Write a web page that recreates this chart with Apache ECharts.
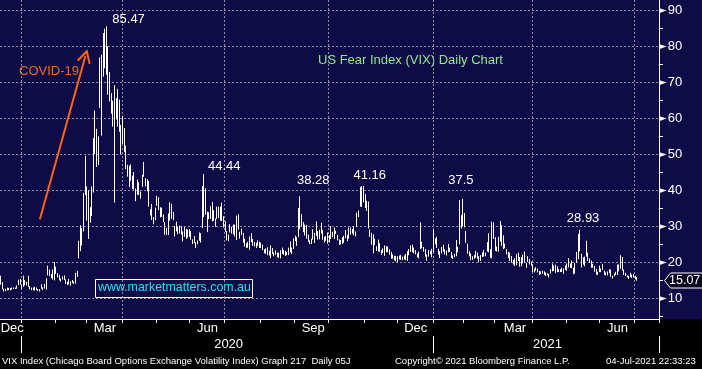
<!DOCTYPE html>
<html><head><meta charset="utf-8">
<script src="https://cdn.jsdelivr.net/npm/echarts@6/dist/echarts.min.js"></script>
<style>html,body{margin:0;padding:0;background:#000;}#c{width:702px;height:369px;}</style>
</head><body><div id="c"></div>
<script>
// ---------- axis / calendar data ----------
const firstDay = [2019, 11, 12];   // 12 Dec 2019
const lastDay  = [2021, 6, 22];    // 22 Jul 2021 (right edge of axis)
const holidays = ['2019-12-25','2020-01-01','2020-01-20','2020-02-17','2020-04-10','2020-05-25','2020-07-03',
  '2020-09-07','2020-11-26','2020-12-25','2021-01-01','2021-01-18','2021-02-15','2021-04-02','2021-05-31','2021-07-05'];
const monthNames = ['Jan','Feb','Mar','Apr','May','Jun','Jul','Aug','Sep','Oct','Nov','Dec'];
const labelledMonths = [11, 2, 5, 8];   // Dec, Mar, Jun, Sep
const yMin = 4.17, yMax = 92.78;

// ---------- VIX daily OHLC (12 Dec 2019 .. 2 Jul 2021) ----------
const vixOpen = [
15.0,13.9,12.4,12.3,12.3,12.7,12.3,12.8,12.7,12.7,12.8,13.9,15.0,
13.5,15.0,15.0,14.0,15.5,13.2,12.4,12.8,12.3,12.5,12.3,12.2,12.9,12.7,13.0,12.7,17.0,17.7,15.9,17.0,16.3,
18.6,16.6,15.6,15.3,15.5,16.3,14.4,14.4,15.0,14.2,14.8,14.4,14.3,16.6,21.3,24.7,26.0,29.0,42.0,
40.6,32.5,33.6,35.4,46.2,55.9,46.4,51.3,64.0,63.3,73.5,76.6,79.3,77.4,69.8,63.6,60.9,59.6,64.4,64.0,64.2,55.3,
57.4,55.0,50.9,46.5,41.3,47.0,43.3,43.4,39.2,40.8,39.1,38.3,42.3,47.6,42.3,41.3,40.8,33.6,32.2,31.8,32.7,
36.2,37.9,34.6,33.6,32.4,30.3,28.9,27.8,32.8,35.3,33.5,29.6,28.7,29.6,28.3,29.8,25.9,27.9,27.5,28.9,
28.6,27.7,26.0,25.9,25.0,25.7,26.5,27.1,29.9,39.4,39.0,30.7,32.3,33.8,32.4,33.5,31.1,32.3,34.2,32.0,35.0,32.5,
30.3,27.8,27.1,28.8,29.6,28.5,30.0,27.2,32.6,27.8,28.4,27.6,26.2,24.0,25.5,23.8,27.2,26.2,24.8,25.1,25.6,24.6,
25.3,24.5,23.2,23.3,23.0,22.3,22.4,23.7,22.0,22.5,22.3,21.7,21.5,23.7,22.9,22.0,22.2,22.4,23.4,23.8,24.0,
26.6,26.3,27.9,33.9,31.6,30.0,28.5,29.6,27.1,25.5,25.3,28.6,27.3,29.5,27.3,26.7,28.9,28.3,26.9,26.4,26.0,
26.8,28.7,28.0,27.8,28.5,27.2,26.2,25.8,25.6,25.6,28.2,26.3,27.3,28.8,28.8,28.7,27.7,30.0,32.9,36.0,38.6,38.6,
37.9,35.2,36.7,28.2,27.8,25.7,26.2,24.3,23.4,24.0,22.9,23.3,22.4,24.3,23.3,23.3,22.6,21.3,21.7,21.2,
20.6,21.6,21.3,21.2,21.6,21.6,20.5,23.0,23.6,23.1,23.9,22.7,22.0,22.1,24.5,25.1,24.0,23.5,21.7,21.8,22.6,22.7,
23.0,26.5,26.2,23.4,21.9,23.0,24.0,22.8,22.2,23.5,23.5,22.6,21.3,22.0,22.2,23.2,25.3,32.3,32.0,
30.3,28.1,24.7,22.8,21.5,21.0,21.4,21.8,21.8,21.4,20.5,22.4,22.7,21.8,23.8,25.1,23.5,21.5,27.6,
26.7,23.6,23.6,26.6,28.0,24.1,24.9,23.3,22.5,21.6,21.1,19.9,20.3,20.7,22.0,21.1,19.5,20.1,20.9,19.6,20.7,20.6,19.4,
18.9,18.0,17.9,18.0,17.3,17.0,17.4,17.0,16.6,16.6,16.5,17.1,17.7,18.9,17.6,18.6,17.8,17.5,17.6,17.2,18.6,
18.9,18.6,19.0,19.2,18.3,17.4,21.5,21.2,27.4,22.0,19.9,19.5,23.3,22.0,20.4,20.4,18.7,18.8,17.8,16.7,
17.4,17.8,18.3,17.5,17.0,16.6,16.9,17.6,16.0,16.6,16.6,17.2,18.3,18.5,20.9,17.5,16.5,16.1,16.0,16.5,16.2,16.3,
16.0,15.4];
const vixHigh = [
16.2,14.4,12.6,12.6,12.9,12.8,12.8,12.9,12.9,12.9,13.5,15.1,15.3,
13.6,16.2,15.0,14.5,16.2,13.3,12.9,12.9,13.1,12.9,12.5,12.5,13.8,13.0,13.9,15.5,19.0,17.9,16.7,17.9,20.0,
18.7,16.9,16.4,15.4,16.0,16.3,15.2,14.5,15.3,14.6,15.0,14.6,17.0,17.5,25.9,30.2,29.4,39.2,49.5,
41.0,39.9,35.2,41.0,54.4,62.1,57.0,54.9,76.8,77.6,83.6,84.8,85.47,79.9,72.8,66.9,64.8,69.1,65.5,68.1,65.1,58.1,
60.6,57.2,52.3,47.0,46.7,47.1,44.0,45.0,40.4,42.9,42.2,39.6,44.2,47.8,43.3,43.0,42.5,34.7,36.1,32.5,35.1,
38.4,38.0,35.2,35.1,33.2,31.1,29.5,33.5,36.6,36.2,33.9,30.0,31.2,29.7,30.1,30.0,28.5,29.8,29.2,29.0,
29.1,28.6,26.3,27.2,25.5,26.0,28.2,28.0,41.1,44.44,40.5,34.0,33.8,35.5,36.7,34.4,32.1,35.4,35.4,35.4,36.5,32.7,
31.3,28.6,27.6,30.5,29.8,30.4,30.4,32.9,33.3,28.4,29.3,28.1,26.5,25.2,25.6,27.1,28.0,26.4,25.6,25.3,26.0,25.6,
25.4,24.8,23.5,23.8,24.1,23.1,24.6,23.9,22.7,23.2,22.6,22.6,23.3,24.0,23.3,23.1,22.8,24.0,25.7,24.0,26.6,
27.3,26.9,35.0,38.28,33.3,31.1,30.4,30.3,27.6,26.0,26.5,29.1,28.1,31.3,28.6,29.0,30.9,28.9,27.0,27.2,28.2,
27.5,30.0,28.4,29.6,28.7,27.5,26.3,26.1,26.9,27.3,28.9,27.5,29.6,29.6,29.2,30.0,28.5,33.7,34.3,40.8,41.1,41.16,
38.9,37.0,36.8,29.0,28.1,27.7,26.5,24.4,26.2,25.2,23.3,23.8,24.6,24.4,24.3,23.5,22.8,22.1,21.7,21.7,
21.6,21.8,22.0,21.5,21.8,22.2,23.0,23.6,24.6,24.8,24.0,23.3,22.4,22.9,31.0,25.6,24.2,23.6,22.1,23.3,23.1,23.7,
29.0,26.6,27.0,23.7,23.0,24.2,24.8,23.5,23.2,25.0,24.0,22.8,21.8,22.3,26.1,24.2,37.2,33.0,37.51,
33.6,28.6,25.1,23.0,22.4,21.6,21.9,23.1,22.6,21.6,21.9,22.7,23.3,22.6,25.5,28.0,23.6,31.2,31.0,
26.9,24.3,27.0,31.4,30.2,27.4,25.1,23.6,22.8,22.6,21.7,20.6,21.0,22.2,22.6,21.4,21.3,22.0,22.9,19.8,21.6,20.8,20.1,
19.3,18.2,18.6,18.2,17.5,17.4,17.6,17.4,17.1,16.9,16.7,18.0,19.6,19.0,19.3,18.8,18.0,18.0,18.4,18.2,19.0,
19.6,21.1,19.6,20.4,18.4,19.8,22.8,27.8,28.93,22.3,21.3,21.5,25.9,22.6,21.0,20.4,19.5,18.9,18.1,17.3,
19.0,18.2,19.5,17.6,17.1,17.4,18.0,17.9,16.2,16.8,17.3,19.3,19.3,21.9,21.4,17.9,17.0,16.3,16.2,17.0,16.5,16.6,
16.2,15.8];
const vixLow = [
13.7,12.4,11.8,11.9,12.1,12.2,12.1,12.3,12.5,12.5,12.6,13.6,13.7,
12.4,13.1,13.5,13.5,13.1,12.4,12.2,12.1,12.1,12.2,12.0,11.8,12.6,12.2,12.6,12.3,16.3,16.1,15.5,15.1,14.9,
16.7,15.7,14.9,14.6,15.1,15.0,13.9,13.6,13.8,13.4,14.2,13.9,14.0,15.9,21.0,23.0,24.6,28.5,38.6,
31.5,26.4,30.9,32.8,39.3,49.9,46.4,46.9,62.8,55.1,71.5,73.8,72.0,66.5,64.6,61.2,57.6,36.5,59.6,57.6,56.2,50.0,
52.8,50.5,45.8,43.7,40.8,42.6,40.3,40.1,36.9,38.7,38.6,37.6,40.9,43.7,41.0,39.6,35.4,32.9,31.7,30.5,31.6,
35.6,34.4,32.4,32.5,31.1,27.6,27.5,27.5,31.5,32.0,31.6,27.1,28.5,27.7,27.9,27.6,25.7,27.0,26.4,26.7,
27.0,26.2,25.0,25.2,23.9,24.9,25.9,25.4,29.4,32.5,33.1,28.3,31.9,32.0,31.3,31.4,29.8,31.9,32.2,31.5,31.4,29.6,
28.4,26.0,25.8,28.2,27.9,27.7,27.1,26.1,29.0,26.5,27.5,25.4,24.3,23.9,24.0,23.4,25.5,24.5,24.3,23.9,24.5,23.9,
23.9,23.3,22.4,22.3,21.9,21.8,21.1,22.2,21.6,22.0,21.3,21.2,21.0,22.2,22.0,21.7,21.9,21.9,22.7,22.2,23.6,
25.8,24.5,26.9,29.1,29.9,28.3,27.4,26.5,25.6,25.0,25.0,26.2,25.3,27.3,26.2,26.3,27.9,26.2,25.4,25.9,25.1,
25.4,26.4,26.9,26.4,27.8,26.0,24.7,24.9,25.0,25.3,26.6,25.8,26.5,27.6,27.9,27.4,27.1,29.7,32.5,35.4,35.3,36.6,
35.0,34.2,29.3,27.0,24.8,22.4,24.7,23.1,22.9,22.9,22.0,22.5,21.7,22.7,22.7,22.0,20.9,20.9,20.5,20.2,
19.9,20.7,20.6,20.5,20.7,20.5,20.3,21.9,22.8,22.7,22.4,22.1,21.3,21.0,23.6,23.8,22.9,21.5,20.4,21.5,22.2,21.3,
22.7,24.9,23.9,22.1,21.1,22.4,22.9,22.1,21.8,22.7,22.8,21.1,20.9,21.3,21.6,22.7,24.9,29.3,29.9,
29.6,25.3,22.3,21.6,20.5,20.6,20.9,21.2,20.9,19.9,20.3,21.4,21.5,21.6,22.9,22.7,21.2,21.0,26.4,
23.1,22.9,22.9,25.7,24.5,23.6,23.8,22.1,21.1,20.3,19.8,19.3,18.9,19.1,20.3,18.7,18.8,19.6,19.7,18.4,20.0,19.3,19.0,
17.2,17.1,17.6,17.1,16.4,16.6,16.7,16.4,16.1,16.3,15.7,16.8,17.4,17.5,17.0,17.2,17.2,17.2,17.2,16.7,17.8,
17.6,18.5,18.4,18.3,16.6,16.8,19.8,20.8,23.0,18.5,19.3,18.8,21.5,20.3,19.7,18.4,18.4,17.3,16.5,16.4,
17.2,17.2,17.8,16.4,16.3,16.3,16.9,15.9,15.4,16.0,16.4,16.4,17.4,18.1,17.6,16.4,16.1,15.7,15.3,15.8,15.6,15.7,
15.2,14.8];
const vixClose = [
13.94,12.63,12.14,12.29,12.58,12.50,12.51,12.61,12.67,12.65,13.43,14.82,13.78,
12.47,14.02,13.85,13.79,13.45,12.54,12.56,12.32,12.39,12.42,12.32,12.10,12.85,12.91,12.98,14.56,18.23,16.28,16.39,15.49,18.84,
17.97,16.05,15.15,14.96,15.47,15.04,15.18,13.74,14.15,13.68,14.83,14.38,15.56,17.08,25.03,27.85,27.56,39.16,40.11,
33.42,36.82,31.99,39.62,41.94,54.46,47.30,53.90,75.47,57.83,82.69,75.91,76.45,72.00,66.04,61.59,61.67,63.95,61.00,65.54,57.08,53.54,
57.06,50.91,46.80,45.24,46.70,43.35,41.67,41.17,37.76,40.84,40.11,38.15,43.83,45.41,41.98,41.38,35.93,33.29,33.57,31.23,34.15,
37.19,35.97,33.61,34.12,31.44,27.98,27.57,33.04,35.28,32.61,31.89,29.30,30.53,27.99,29.53,28.16,27.91,28.59,28.12,27.51,
28.23,26.84,25.66,25.81,24.52,25.81,27.57,27.57,40.79,36.09,34.40,33.67,33.47,32.94,35.12,31.77,31.37,33.84,32.22,34.73,31.78,30.43,
28.62,27.68,27.94,29.43,28.08,29.26,27.29,32.19,29.52,27.76,28.00,25.68,24.46,24.84,24.32,26.08,25.84,24.74,25.44,24.10,24.76,24.46,
24.28,23.76,22.99,22.65,22.21,22.13,24.03,22.28,22.13,22.05,21.35,21.51,22.54,22.72,22.54,22.37,22.03,23.27,24.47,22.96,26.41,
26.12,26.57,33.60,30.75,31.46,28.81,29.71,26.87,25.85,25.59,26.04,26.46,25.83,27.78,26.86,28.58,28.51,26.38,26.19,26.27,26.37,
26.70,27.63,27.96,29.48,28.06,26.36,25.00,25.07,26.07,26.40,26.97,27.41,29.18,29.35,28.65,28.11,27.55,32.46,33.35,40.28,37.59,38.02,
37.13,35.55,29.57,27.58,24.86,25.75,24.80,23.45,25.35,23.10,22.45,22.71,23.84,23.11,23.70,22.66,21.64,21.25,20.84,20.57,
20.77,21.17,21.28,20.79,21.30,20.68,22.27,22.52,23.31,24.72,22.89,22.50,21.93,21.57,25.16,24.23,23.31,21.53,21.70,23.08,22.77,22.75,
26.97,25.34,25.07,22.37,21.56,24.08,23.33,22.21,22.87,24.34,23.24,21.58,21.32,21.91,23.19,23.02,37.21,30.21,33.09,
30.24,25.56,22.91,21.77,20.87,21.24,21.63,21.99,21.25,19.97,21.46,21.50,22.49,22.05,23.45,23.11,21.34,28.89,27.95,
23.35,24.10,26.67,28.57,24.66,25.47,24.03,22.56,21.91,20.69,20.03,19.79,19.23,21.58,20.95,18.88,20.30,21.20,19.81,18.86,20.74,19.61,19.40,
17.33,17.91,18.12,17.16,16.95,16.69,16.91,16.65,16.99,16.57,16.25,17.29,18.68,17.50,18.71,17.33,17.64,17.56,17.28,17.61,18.61,
18.31,19.48,19.15,18.39,16.69,19.66,21.84,27.59,23.13,18.81,19.72,21.34,22.18,20.67,20.15,18.40,18.84,17.36,16.74,16.76,
17.90,17.48,18.04,16.42,16.42,17.07,17.89,16.10,15.65,16.39,17.02,18.15,17.75,20.70,17.89,16.66,16.32,15.97,15.62,16.20,16.02,15.83,
15.48,15.07];

// ---------- annotations ----------
const peakDates  = ['2020-03-18','2020-06-12','2020-09-04','2020-10-30','2021-01-29','2021-05-13'];
const peakValues = [85.47, 44.44, 38.28, 41.16, 37.5, 28.93];
const peakLabels = ['85.47','44.44','38.28','41.16','37.5','28.93'];
const lastLabel = '15.07';
const arrowFrom = ['2020-01-17', 31.9];
const arrowTo   = ['2020-02-28', 77.2];

// ---------- styling ----------
const NAVY = '#0f0b47';
const GRIDC = '#8f8f9a';
const FONT = 'Liberation Sans, Arial, sans-serif';
const GRID_RIGHT = 43;
const peakOffsets = [[22,-7],[20,-8],[13,-16],[6,-10],[-2,-19],[3,-11]];

// build trading-day categories
const categories = [];
for (let t = Date.UTC(firstDay[0], firstDay[1], firstDay[2]); t <= Date.UTC(lastDay[0], lastDay[1], lastDay[2]); t += 86400000) {
  const d = new Date(t), wd = d.getUTCDay(), s = d.toISOString().slice(0, 10);
  if (wd === 0 || wd === 6 || holidays.includes(s)) continue;
  categories.push(s);
}
function runs(keyFn) {
  const r = [];
  categories.forEach((c, i) => {
    const k = keyFn(c);
    if (!r.length || r[r.length - 1].k !== k) r.push({ k, first: i, count: 1 }); else r[r.length - 1].count++;
  });
  return r;
}
const monthStart = new Set(), quarterStart = new Set(), monthLabelIdx = new Set(), yearStart = new Set(), yearLabelIdx = new Set();
runs(c => c.slice(0, 7)).forEach(r => {
  const m = +categories[r.first].slice(5, 7) - 1;
  if (r.first > 0) { monthStart.add(r.first); if (m % 3 === 0) quarterStart.add(r.first); }
  if (labelledMonths.includes(m)) monthLabelIdx.add(r.first + Math.floor((r.count + 1) / 2));
});
runs(c => c.slice(0, 4)).forEach(r => {
  if (r.first > 0) { yearStart.add(r.first); yearLabelIdx.add(r.first + Math.floor((r.count + 1) / 2)); }
});

const ohlc = vixClose.map((c, i) => [vixOpen[i], c, vixLow[i], vixHigh[i]]);
const lastIdx = vixClose.length - 1;

const arrowHead = 'path://M0,0 L7,12 L5.4,13.2 L0,4 L-5.4,13.2 L-7,12 Z';

const chart = echarts.init(document.getElementById('c'), null, { renderer: 'canvas' });
const baseGraphic = [
  { type: 'rect', z: -10, shape: { x: 0, y: 319.5, width: 702, height: 50 }, style: { fill: '#000' } },
  { type: 'text', x: 19, y: 65, style: { text: 'COVID-19', fill: '#f26a1e', font: '13px ' + FONT } },
  { type: 'text', x: 318, y: 54, style: { text: 'US Fear Index (VIX) Daily Chart', fill: '#8ee88e', font: '13px ' + FONT } },
  { type: 'rect', shape: { x: 95.5, y: 279.5, width: 157, height: 18 }, style: { fill: null, stroke: '#fff', lineWidth: 1 } },
  { type: 'text', x: 98, y: 282, style: { text: 'www.marketmatters.com.au', fill: '#1ee3ef', font: '12.4px ' + FONT } },
  { type: 'text', x: 2, y: 356, style: { text: 'VIX Index (Chicago Board Options Exchange Volatility Index) Graph 217  Daily 05J', fill: '#fff', font: '9.5px ' + FONT } },
  { type: 'text', x: 395, y: 356, style: { text: 'Copyright\u00A9 2021 Bloomberg Finance L.P.', fill: '#fff', font: '9.5px ' + FONT } },
  { type: 'text', x: 606, y: 356, style: { text: '04-Jul-2021 22:33:23', fill: '#fff', font: '9.5px ' + FONT } }
];
chart.setOption({
  animation: false,
  backgroundColor: NAVY,
  textStyle: { fontFamily: FONT },
  grid: { left: 0, right: GRID_RIGHT, top: 0, bottom: 50, show: false, containLabel: false, outerBoundsMode: 'none' },
  xAxis: [{
    type: 'category', data: categories, boundaryGap: true, position: 'bottom',
    axisLine: { show: true, lineStyle: { color: '#fff', width: 1 } },
    axisTick: { show: true, interval: i => monthStart.has(i), length: 4, lineStyle: { color: '#fff' } },
    axisLabel: { show: true, interval: i => monthLabelIdx.has(i), formatter: v => monthNames[+v.slice(5, 7) - 1],
      color: '#fff', fontSize: 13, fontFamily: FONT, margin: 3 },
    splitLine: { show: true, interval: i => quarterStart.has(i), lineStyle: { color: GRIDC, width: 1, type: [2, 2] } }
  }, {
    type: 'category', data: categories, boundaryGap: true, position: 'bottom', offset: 17,
    axisLine: { show: false },
    axisTick: { show: true, interval: i => yearStart.has(i), length: 17, lineStyle: { color: '#fff' } },
    axisLabel: { show: true, interval: i => yearLabelIdx.has(i), formatter: v => v.slice(0, 4),
      color: '#fff', fontSize: 13, fontFamily: FONT, margin: 2 },
    splitLine: { show: false }
  }],
  yAxis: {
    type: 'value', position: 'right', min: yMin, max: yMax, splitNumber: 9, scale: true,
    axisLine: { show: true, lineStyle: { color: '#fff', width: 1 } },
    axisTick: { show: false },
    minorTick: { show: true, splitNumber: 2, length: 4, lineStyle: { color: '#fff' } },
    minorSplitLine: { show: false },
    splitLine: { show: true, showMinLine: false, showMaxLine: false, lineStyle: { color: GRIDC, width: 1, type: [2, 2] } },
    axisLabel: {
      show: true, showMinLabel: false, showMaxLabel: false, margin: 0,
      formatter: v => '{t|\u25BA}{n|' + v + '}',
      rich: {
        t: { fontSize: 10, color: '#fff', fontFamily: 'DejaVu Sans' },
        n: { fontSize: 13, color: '#fff', fontFamily: FONT, padding: [0, 0, 0, 1] }
      }
    }
  },
  series: [{
    type: 'candlestick', data: ohlc, barWidth: 1, large: false,
    itemStyle: { color: '#fff', color0: '#fff', borderColor: '#fff', borderColor0: '#fff', borderWidth: 1 },
    emphasis: { disabled: true },
    markPoint: {
      silent: true, animation: false,
      data: peakDates.map((d, i) => ({
        coord: [d, peakValues[i]], value: peakLabels[i], symbol: 'circle', symbolSize: 0,
        label: { show: true, position: 'inside', offset: peakOffsets[i], formatter: peakLabels[i],
          color: '#fff', fontSize: 13, fontFamily: FONT }
      }))
    },
    markLine: {
      silent: true, animation: false,
      symbol: ['none', arrowHead], symbolSize: [14, 14],
      lineStyle: { color: '#ff6418', width: 2, type: 'solid' },
      label: { show: false },
      data: [[{ coord: arrowFrom }, { coord: arrowTo }]]
    }
  }],
  graphic: baseGraphic
});

// last-value tag on the value axis, placed through the axis scale
const tagY = Math.round(chart.convertToPixel({ yAxisIndex: 0 }, vixClose[lastIdx])) + 0.5;
const axisX = chart.getWidth() - GRID_RIGHT;
const tx = axisX + 5.5;
chart.setOption({
  graphic: baseGraphic.concat([
    { type: 'polygon', z: 50, shape: { points: [[tx, tagY], [tx + 6, tagY - 7.5], [702.5, tagY - 7.5], [702.5, tagY + 7.5], [tx + 6, tagY + 7.5]] },
      style: { fill: '#06041f', stroke: '#fff', lineWidth: 1 } },
    { type: 'text', z: 51, x: tx + 4.5, y: tagY, style: { text: lastLabel, fill: '#fff', font: '12.5px ' + FONT, verticalAlign: 'middle' } }
  ])
});
</script></body></html>
